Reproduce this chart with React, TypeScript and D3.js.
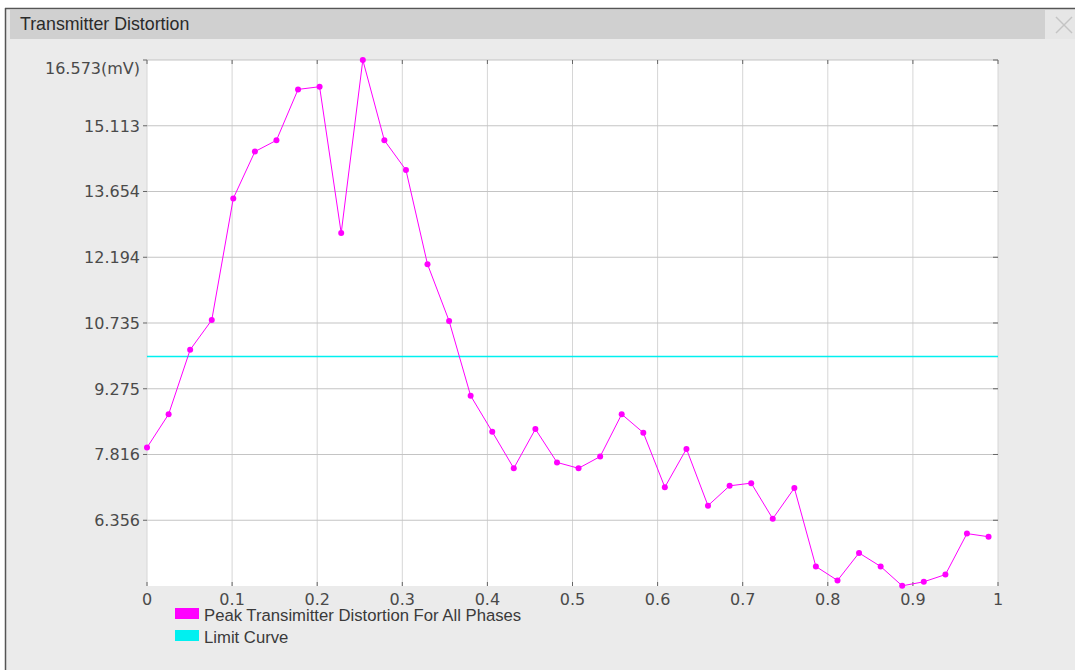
import React from "react";
import * as d3 from "d3";

const xValues = [
  0, 0.0254, 0.0507, 0.0761, 0.1014, 0.1268, 0.1521, 0.1775, 0.2028, 0.2282,
  0.2536, 0.2789, 0.3043, 0.3296, 0.355, 0.3803, 0.4057, 0.431, 0.4564, 0.4818,
  0.5071, 0.5325, 0.5578, 0.5832, 0.6085, 0.6339, 0.6592, 0.6846, 0.71, 0.7353,
  0.7607, 0.786, 0.8114, 0.8367, 0.8621, 0.8874, 0.9128, 0.9382, 0.9635, 0.9889,
];
const peakValues = [
  7.97, 8.71, 10.14, 10.8, 13.5, 14.54, 14.79, 15.92, 15.98, 12.73,
  16.573, 14.79, 14.13, 12.04, 10.78, 9.12, 8.32, 7.51, 8.38, 7.64,
  7.51, 7.77, 8.71, 8.3, 7.09, 7.94, 6.68, 7.12, 7.18, 6.39,
  7.07, 5.33, 5.02, 5.63, 5.33, 4.9, 4.99, 5.15, 6.06, 5.99,
];
const limitValue = 9.99;
const yTicks = [6.356, 7.816, 9.275, 10.735, 12.194, 13.654, 15.113, 16.573];
const yMin = 4.8965;
const xTicks = [0, 0.1, 0.2, 0.3, 0.4, 0.5, 0.6, 0.7, 0.8, 0.9, 1];
const title = "Transmitter Distortion";
const legendItems = [
  { label: "Peak Transimitter Distortion For All Phases", color: "#ff00ff" },
  { label: "Limit Curve", color: "#00f0f0" },
];

export default function App() {
  const W = 1075, H = 670;
  const left = 147, right = 998, top = 60, bottom = 586;
  const x = d3.scaleLinear().domain([0, 1]).range([left, right]);
  const y = d3.scaleLinear().domain([yMin, 16.573]).range([bottom, top]);
  const line = d3
    .line<number>()
    .x((_, i) => x(xValues[i]))
    .y((d) => y(d));
  const numFont = "'DejaVu Sans', sans-serif";
  const txtFont = "'Liberation Sans', Arial, sans-serif";
  return (
    <svg width={W} height={H} style={{ position: "absolute", left: 0, top: 0, background: "#fff" }}>
      <rect x={5} y={8} width={W - 5} height={H - 8} fill="#ebebeb" />
      <line x1={5.5} y1={8} x2={5.5} y2={H} stroke="#555" strokeWidth={1.5} />
      <line x1={5} y1={8.5} x2={W} y2={8.5} stroke="#555" strokeWidth={1.5} />
      <rect x={10} y={10} width={1035} height={29} fill="#d0d0d0" />
      <rect x={1045} y={10} width={30} height={29} fill="#e6e6e6" />
      <g stroke="#c4c4c4" strokeWidth={1.5}>
        <line x1={1056} y1={17} x2={1072} y2={33} />
        <line x1={1072} y1={17} x2={1056} y2={33} />
      </g>
      <text x={20} y={30} fontFamily={txtFont} fontSize={17.8} fill="#2a2a2a">{title}</text>

      <rect x={left} y={top} width={right - left} height={bottom - top} fill="#fff" />
      {xTicks.map((t) => (
        <line key={"vx" + t} x1={x(t)} x2={x(t)} y1={top} y2={bottom} stroke="#d6d6d6" strokeWidth={1} />
      ))}
      {yTicks.map((t) => (
        <line key={"hy" + t} x1={left} x2={right} y1={y(t)} y2={y(t)} stroke="#c4c4c4" strokeWidth={1.2} />
      ))}
      {xTicks.map((t) => (
        <g key={"tx" + t} stroke="#666" strokeWidth={1}>
          <line x1={x(t)} x2={x(t)} y1={top} y2={top + 4} />
          <line x1={x(t)} x2={x(t)} y1={bottom} y2={bottom - 4} />
        </g>
      ))}
      {yTicks.map((t) => (
        <g key={"ty" + t} stroke="#666" strokeWidth={1}>
          <line x1={left - 4} x2={left} y1={y(t)} y2={y(t)} />
          <line x1={right - 5} x2={right} y1={y(t)} y2={y(t)} />
        </g>
      ))}

      <line x1={left} x2={right} y1={y(limitValue)} y2={y(limitValue)} stroke="#00f0f0" strokeWidth={1.5} />
      <path d={line(peakValues) || ""} fill="none" stroke="#ff00ff" strokeWidth={1} />
      {peakValues.map((v, i) => (
        <circle key={"p" + i} cx={x(xValues[i])} cy={y(v)} r={3} fill="#ff00ff" />
      ))}

      {yTicks.map((t, i) => {
        const isTop = i === yTicks.length - 1;
        return (
          <text key={"ly" + t} x={140} y={y(t) + (isTop ? 14 : 6)} textAnchor="end" fontFamily={numFont} fontSize={16} fill="#4a4a4a">
            {isTop ? t.toFixed(3) + "(mV)" : t.toFixed(3)}
          </text>
        );
      })}
      {xTicks.map((t) => (
        <text key={"lx" + t} x={x(t)} y={605} textAnchor="middle" fontFamily={numFont} fontSize={16} fill="#4a4a4a">
          {String(t)}
        </text>
      ))}

      {legendItems.map((it, i) => (
        <g key={"lg" + i}>
          <rect x={175} y={608 + i * 22} width={24} height={11} fill={it.color} />
          <text x={204} y={621 + i * 22} fontFamily={txtFont} fontSize={16.7} fill="#3a3a3a">{it.label}</text>
        </g>
      ))}
    </svg>
  );
}
